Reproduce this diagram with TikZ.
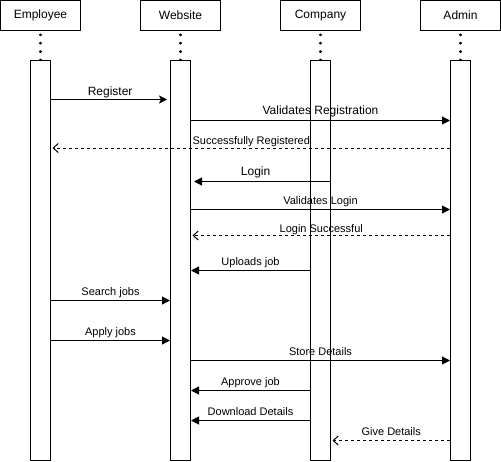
\documentclass[tikz,border=0pt]{standalone}
\usepackage{fontspec}
\setmainfont{Liberation Sans}
\usetikzlibrary{arrows.meta}
\begin{document}
\begin{tikzpicture}[x=1pt,y=-1pt,line width=1pt,
  head/.style={draw,rectangle,minimum width=80pt,minimum height=30pt,inner sep=0pt,font=\fontsize{12}{14}\selectfont},
  bar/.style={draw,rectangle,fill=white,minimum width=20pt,minimum height=400pt,inner sep=0pt},
  life/.style={line width=2.2pt,dash pattern=on 0.6pt off 7.8pt,line cap=round},
  msg/.style={-{Triangle[length=8pt,width=8pt]}},
  msgc/.style={-{Stealth[length=8pt,width=8pt,inset=2pt]}},
  ret/.style={dash pattern=on 3pt off 3pt,-{Straight Barb[length=5pt,width=9pt,line width=1pt]}},
  lbl/.style={anchor=base,inner sep=0pt,font=\fontsize{11}{13}\selectfont},
  lblb/.style={anchor=base,inner sep=0pt,font=\fontsize{12}{14}\selectfont}]
\useasboundingbox (0,0) rectangle (501,461);
% headers
\node[head] (emp) at (40.5,15.5) {Employee};
\node[head] (web) at (180.5,15.5) {Website};
\node[head] (com) at (320.5,15.5) {Company};
\node[head] (adm) at (460.5,15.5) {Admin};
% activation bars
\node[bar] (eb) at (40.5,260.5) {};
\node[bar] (wb) at (180.5,260.5) {};
\node[bar] (cb) at (320.5,260.5) {};
\node[bar] (ab) at (460.5,260.5) {};
% lifelines
\draw[life] ([yshift=-3.5pt]emp.south) -- (eb.north);
\draw[life] ([yshift=-3.5pt]web.south) -- (wb.north);
\draw[life] ([yshift=-3.5pt]com.south) -- (cb.north);
\draw[life] ([yshift=-3.5pt]adm.south) -- (ab.north);
% messages
\draw[msgc] (eb.east |- 0,99.5) -- ([xshift=-3pt]wb.west |- 0,99.5)
  node[lblb,pos=0.51,yshift=4pt] {Register};
\draw[msg] (wb.east |- 0,120.5) -- (ab.west |- 0,120.5)
  node[lblb,midway,yshift=6.5pt] {Validates Registration};
\draw[ret] (ab.west |- 0,148) -- ([xshift=1.5pt]eb.east |- 0,148)
  node[lbl,midway,yshift=4pt] {Successfully Registered};
\draw[msg] (cb.east |- 0,181.5) -- ([xshift=3pt]wb.east |- 0,181.5)
  node[lblb,pos=0.55,yshift=6pt] {Login};
\draw[msg] (wb.east |- 0,209.5) -- (ab.west |- 0,209.5)
  node[lbl,midway,yshift=5pt] {Validates Login};
\draw[ret] (ab.west |- 0,235.5) -- ([xshift=1.5pt]wb.east |- 0,235.5)
  node[lbl,midway,yshift=3pt] {Login Successful};
\draw[msg] (cb.west |- 0,270.5) -- (wb.east |- 0,270.5)
  node[lbl,midway,yshift=5.5pt] {Uploads job};
\draw[msg] (eb.east |- 0,300.5) -- (wb.west |- 0,300.5)
  node[lbl,midway,yshift=5pt] {Search jobs};
\draw[msg] (eb.east |- 0,340.5) -- (wb.west |- 0,340.5)
  node[lbl,midway,yshift=5pt] {Apply jobs};
\draw[msg] (wb.east |- 0,360.5) -- (ab.west |- 0,360.5)
  node[lbl,midway,yshift=5pt] {Store Details};
\draw[msg] (cb.west |- 0,390.5) -- (wb.east |- 0,390.5)
  node[lbl,midway,yshift=5pt] {Approve job};
\draw[msg] (cb.west |- 0,420.5) -- (wb.east |- 0,420.5)
  node[lbl,midway,yshift=5.5pt] {Download Details};
\draw[ret] (ab.west |- 0,440.5) -- ([xshift=1.5pt]cb.east |- 0,440.5)
  node[lbl,midway,yshift=5pt] {Give Details};
\end{tikzpicture}
\end{document}
